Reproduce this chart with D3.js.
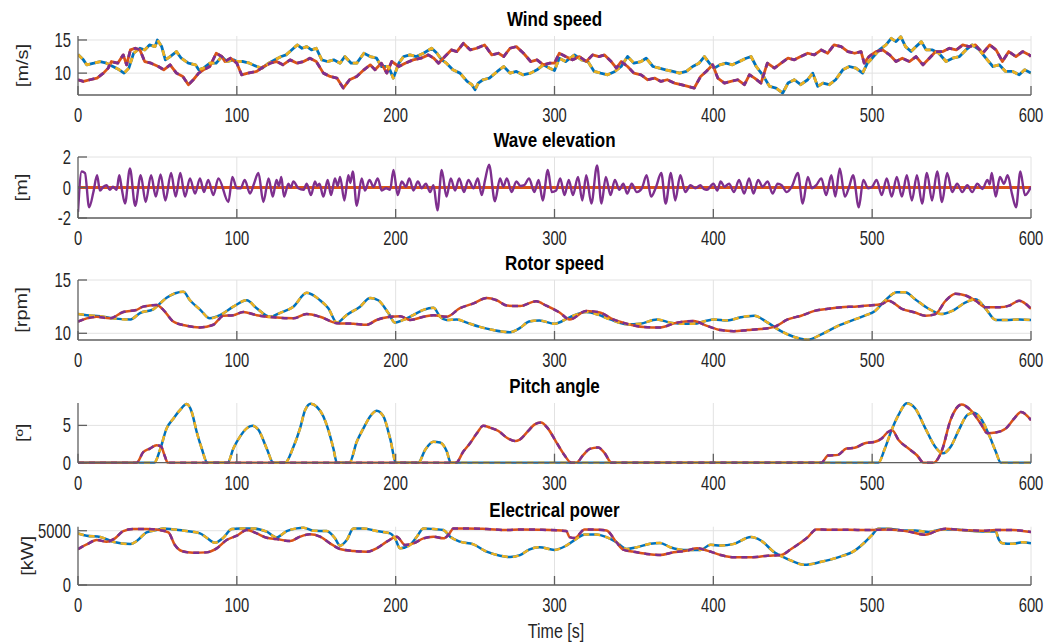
<!DOCTYPE html>
<html>
<head>
<meta charset="utf-8">
<script src="https://cdn.jsdelivr.net/npm/d3@7"></script>
<style>
  body { margin: 0; background: #fff; }
  svg { display: block; }
</style>
</head>
<body>
<div id="app"></div>
<script>
// panel titles, units and ticks
const titles = ['Wind speed', 'Wave elevation', 'Rotor speed', 'Pitch angle', 'Electrical power'];
const units = ['[m/s]', '[m]', '[rpm]', '[º]', '[kW]'];
const timeTicks = [0, 100, 200, 300, 400, 500, 600];
const windTicks = [10, 15];
const waveTicks = [-2, 0, 2];
const rotorTicks = [10, 15];
const pitchTicks = [0, 5];
const powerTicks = [0, 5000];

// [time s, value]
const windA = [[0,12.8],[3.4,12],[5.5,11.25],[10,11.5],[14,11.75],[18,11.5],[22,11],[26,10.5],[29,10],[32,10.75],[35,13],[39,13.75],[42,13.5],[45,14.25],[48.5,14],[50,15],[52.7,14],[55,12],[58,12.5],[62,13.25],[65,12.25],[69.5,11.5],[74,11.25],[76,10.5],[79,10.75],[83,11.5],[87,11.5],[90.5,12.5],[93.6,11.75],[98,12],[100,11.75],[104,11.75],[108,11.5],[112.5,11],[116,10.75],[120,11.5],[124,12],[128,12.5],[131,12.75],[134.5,13.5],[138,14.25],[141,13.75],[144,14],[147,13.5],[150,13.75],[153.5,12],[157,11.75],[161,12],[165,11.5],[168,12.5],[172,11.5],[175.5,11.5],[180,13],[184,12.5],[188,12.25],[191,11],[195.5,11],[198.5,9.25],[202,11.5],[205,12.5],[209,12.75],[213,12.5],[217.5,13],[222.7,13.75],[226,13],[229,12],[232,11.5],[236,10.5],[240.5,10],[245,8.75],[248,8.25],[250,7.5],[252,8.5],[255,9],[259,9.25],[264,10.25],[268,11],[272,10],[276,10.25],[280,9.75],[285,10],[289,10.5],[293,11.25],[297,10.75],[300,10.4],[303,12.25],[307,11.75],[312.6,12.75],[317,12],[321,11.75],[325,10.25],[329,10],[333.5,9.75],[338,10.25],[342,11],[346,12.5],[350,11.5],[354.5,11.75],[357.7,12.25],[362,11],[366,10.75],[370,10.5],[374.5,10.25],[378.7,10],[383,10.25],[387,11],[391,11.5],[394.4,12.5],[397.5,11.5],[400.7,10.75],[404,11.25],[408,11.5],[412,11.25],[416.4,11.75],[420.6,12.25],[423.8,12.5],[427,11],[431,9.75],[435.4,8],[439.5,7.75],[443.7,7],[447,8.5],[451,9],[455,8.25],[459.4,9],[462.6,10],[465.7,8],[469,8.5],[473,8.25],[477,9],[481.5,10.5],[485.6,11],[489.8,10.75],[494,10],[497,11.5],[500,12.25],[504.5,13.5],[508.7,14.25],[512,15.25],[515,14.75],[518,15.5],[521,14],[524.5,13.25],[527.6,14],[531,14.75],[534,13.5],[538,13.5],[542,13],[546.5,11.75],[550.7,12.25],[555,12.5],[559,13.5],[563,14.25],[567.5,13.5],[571.6,12.25],[576,11],[580,11.25],[584,10.25],[588.5,10.25],[592.6,9.75],[596,10.5],[600,10]];
const windB = [[0,9],[3.4,8.75],[7.5,9],[12,9.25],[16,10],[19,10.75],[21,11.75],[25,11.5],[28.5,12.75],[30.6,11.25],[33,13.5],[36,13.75],[39,13.5],[42,11.75],[46,11.5],[50.6,11],[54,10.5],[58,11.25],[62,10],[66,9.5],[69.5,8.25],[72.6,9],[76,10],[79,10.5],[83,11],[87,13],[90.5,12.5],[92.5,11.75],[96,12.25],[100,11.5],[103,9.75],[107,10],[112.5,10.25],[117,11],[121,11.5],[125,11.75],[129,11.25],[133.5,12],[138,11.5],[142,11.75],[146,12.25],[150,11.75],[154.5,10],[158.7,9.5],[163,9.25],[167,7.75],[171,9],[175.5,9.5],[180,10.5],[184,11.25],[187,10.5],[191,11.5],[194.4,10],[197.5,11.75],[202,11],[206,11.5],[211,12],[216,12.25],[220.6,12.75],[224,12.25],[227,11.5],[231,12.5],[235,13.5],[238.5,13.25],[242.6,14.5],[247,13.5],[251,13.75],[256,14.25],[260.5,12.75],[264.7,13],[268,12.5],[272,13.75],[276,14],[280.5,13],[285,11.75],[289,12],[293,11.25],[297,11.5],[300,11.5],[303,13],[307,12.5],[311.5,12],[315.7,12.5],[320,11.75],[324,12.75],[328,12.5],[331.5,12.75],[335.7,11.75],[339,10.75],[342,11.75],[346,11],[350,10],[354.5,9.75],[358.7,9],[363,9.25],[367,8.75],[371,9],[375.5,8.5],[379.7,8.25],[384,8],[388,7.75],[392,9.5],[395.5,10.25],[399.6,11.25],[402.8,9.25],[407,8.5],[411,8.75],[415.4,9],[419.6,8.25],[422.7,9.75],[426,9.25],[430,8.5],[434,11.5],[438.5,10.75],[442.7,11.5],[447,12.25],[451,12],[455,12.5],[459.4,13],[463.6,12.75],[468,13.5],[472,13],[476,14.25],[480.5,14],[484.7,13.25],[489,13],[493,13.25],[495,11.5],[498,12.5],[502.4,13.25],[506.6,13.5],[511,12.75],[515,11.75],[519,12.25],[523.4,11.75],[527.6,12.5],[532,11.25],[536,12.25],[540,13.25],[544.5,13.25],[548.6,13.75],[553,13.5],[557,14.25],[561,14],[565,14.25],[569.6,13],[574,14.25],[578,13.5],[582,11.75],[586,13.25],[590.5,12.5],[594.7,13.25],[599,12.75],[600,12.5]];

const waveStill = [[0,0],[600,0]];
const waveElev = [[0,-1.6],[2.3,1.05],[4.4,0.95],[7,-1.3],[9.7,-0.3],[12,0.8],[13.8,-0.2],[16,0.05],[18,0.15],[20,-0.15],[22,0.05],[24.3,-0.15],[26,0.8],[27.5,-0.05],[29.6,-1.05],[32.7,1.25],[36,-1.2],[39.5,0.8],[42.6,-0.95],[46,0.8],[49,-0.6],[52,0.85],[55,-0.85],[58.6,0.95],[61.5,-0.6],[64.4,0.95],[67.4,-0.6],[70.5,0.6],[73.7,-0.4],[76.8,0.6],[79.3,-0.3],[82,0.5],[85.2,-0.5],[88.4,0.6],[94.7,-0.95],[97.2,0.7],[100,-0.05],[102.4,-0.05],[105,0.5],[108.3,-0.4],[110.8,0.25],[113.6,0.95],[116.7,-0.95],[120,0.6],[122.6,-0.6],[125,0.5],[126.5,0.1],[128,0.7],[129.7,-0.6],[132.5,0.25],[134,0],[135.6,0.4],[138.7,-0.05],[142,-0.15],[144,0.25],[146.7,-0.5],[149.2,0.4],[150.5,0.1],[152,0.25],[154.5,-0.6],[157.2,0.5],[159.3,-0.5],[161.8,0.6],[163.5,0.1],[165,0.7],[167.7,-0.85],[170.2,0.8],[171.5,0.3],[173,1.05],[175.5,-1.2],[178.6,0.6],[180.7,-0.2],[183.5,0.5],[186,0.05],[188.7,0.6],[191.2,-0.2],[194,-0.05],[196.5,-0.15],[198.6,1.15],[201.3,-0.5],[203.8,0.4],[206.5,0.05],[208.6,0.6],[211.2,-0.2],[214,0.4],[216.4,-0.05],[219,0.25],[221.7,-0.3],[223.8,0.15],[226.3,-1.5],[229,1.15],[232,-0.6],[234.7,0.6],[237.4,-0.2],[240,0.6],[243,-0.3],[245.8,0.5],[249,-0.05],[251.7,0.6],[254.2,-0.5],[256.3,0.5],[258.8,1.5],[262.5,-0.9],[265.7,0.6],[267.8,0.05],[270,0.6],[273,-0.3],[276,0.4],[278.5,0.1],[281,0.15],[284,0.6],[287.3,-0.3],[290,0.5],[292.6,-0.85],[295.8,1.15],[298.3,-0.3],[301,-0.2],[303.6,0.6],[306.3,-0.5],[309,0.5],[311.6,-0.5],[314.8,0.7],[317.5,-0.85],[320,0.8],[323.2,-1.05],[326.8,1.45],[329.6,-1.05],[332.3,0.7],[335.3,-0.5],[338,0.5],[340.8,-0.15],[343.3,0.25],[345.8,-0.4],[348.6,0.25],[351.8,-0.3],[355,-0.05],[358,0.8],[360.8,-0.6],[364,0.05],[367.2,0.95],[370,-1.05],[373.3,0.95],[376,-0.85],[379.2,0.8],[382.4,-0.3],[385.6,0.15],[388.7,-0.05],[391.9,0.15],[394,-0.1],[396,-0.15],[400,0.25],[402.5,-0.2],[404.6,0.4],[407,0.05],[409.9,0.25],[413,-0.3],[416.2,0.5],[419.4,-0.4],[422.5,0.6],[425.3,-0.4],[428.2,0.5],[431,0.05],[434.2,0.4],[437.3,-0.4],[440.5,0.25],[443,0.15],[446.2,-0.3],[449.4,0.05],[453.2,0.95],[456.3,-1.05],[459.5,0.7],[462,-0.05],[464.8,0.15],[468,0.6],[471,-0.5],[474.3,0.8],[476.8,-0.6],[479.6,1.25],[482.8,-0.6],[485.5,0.05],[488,0.8],[491.6,-1.3],[494.4,0.5],[497.5,-0.05],[500,0.05],[502.8,0.5],[506,-0.5],[509.2,0.6],[512.3,-0.6],[515.5,0.7],[518.7,-0.6],[521.8,0.8],[525,-0.85],[528.2,0.8],[531.4,-1.05],[534.5,0.95],[537.7,-0.85],[540.9,1.05],[544,-0.95],[547.2,0.95],[550.4,-0.3],[553.5,0.25],[556.7,-0.3],[559.9,0.15],[563,-0.3],[566.2,0.25],[569.4,-0.1],[572.6,0.5],[574,0.2],[575.3,0.95],[577.8,-0.6],[580.4,0.7],[583,0.25],[585.3,0.8],[588,-0.4],[590.6,-1.3],[593.3,1.05],[596.2,-0.5],[600,0.05]];

const rotorA = [[0,11.8],[5.5,11.7],[14,11.6],[22,11.4],[33,11.3],[39,11.9],[47.4,12.25],[51.6,12.8],[56,13.35],[66.3,13.9],[70.5,13.1],[77,12.2],[83,11.4],[89.4,11.7],[97.8,12.5],[106.2,13.1],[112.5,12.35],[121,11.55],[127,11.9],[135.6,12.5],[144,13.8],[152.4,13.1],[157.6,12.35],[163,11],[169,11.7],[177.6,12.5],[183.9,13.3],[189,13.1],[195.4,11.9],[199.6,11],[204.9,11.25],[211,11.7],[217.5,12.2],[223.8,12.4],[228,11.55],[232,11.25],[238.5,11.3],[244.8,11],[253,10.6],[261.5,10.3],[272,10.1],[278.3,10.5],[284,11.1],[290.5,11.2],[300,10.9],[309.5,11.5],[320,12],[327.5,11.75],[335,11.3],[345.4,10.85],[353.9,10.9],[364.4,11.3],[372.9,11],[379.2,10.9],[387.7,10.9],[395,11.15],[400.4,11.3],[408.8,11.2],[417.3,11.5],[425.7,11.65],[434.2,11],[442.6,10.2],[451,9.65],[459.5,9.4],[468,9.9],[478.5,10.7],[489,11.3],[495.4,11.65],[501.8,12.1],[508,13.05],[515.5,13.85],[520.8,13.85],[527,13.2],[535.6,12.3],[544,11.8],[550.4,12.1],[558.8,12.9],[565.2,13.2],[571.5,12.3],[577.8,11.25],[584.2,11.25],[592.6,11.3],[600,11.25]];
const rotorB = [[0,11.1],[5.5,11.4],[11.8,11.55],[20,11.4],[28.5,12],[37,12.2],[41,12.5],[49.5,12.65],[53.7,12.2],[60,11.1],[68.4,10.7],[76.8,10.55],[85.2,10.8],[91.5,11.65],[97.8,11.7],[104,12],[112.5,11.7],[123,11.5],[135.6,11.4],[144,11.8],[152.4,11.55],[163,10.95],[173.4,10.9],[181.8,10.8],[188,11.25],[196.5,11.55],[202.8,11.6],[209,11.25],[217.5,11.55],[223.8,11.7],[232,11.55],[240.5,12.35],[249,12.8],[257.3,13.3],[263.6,13.1],[270,12.6],[278.3,12.55],[288.4,13],[294.7,12.6],[303.2,11.95],[309.5,11.3],[320,12.1],[328.5,11.95],[337,11.3],[345.4,10.9],[356,10.6],[366.5,10.55],[377,11],[387.7,11.15],[396,10.7],[404.6,10.3],[413,10.2],[421.5,10.3],[430,10.4],[438.4,10.6],[446.8,11.3],[455.3,11.65],[463.7,12.1],[472.2,12.3],[480.6,12.45],[489,12.5],[497.5,12.6],[506,12.75],[510.2,13.05],[518.7,12.3],[527,11.95],[533.5,11.65],[539.8,11.8],[546.2,13.05],[552.5,13.7],[558.8,13.55],[565.2,13.05],[571.5,12.45],[580,12.45],[586.3,12.6],[592.6,13.05],[600,12.3]];

const pitchA = [[0,0],[48,0],[51.6,1.7],[55.8,4.6],[60,5.9],[64.2,7.05],[68.4,7.85],[71.6,6.8],[74.7,4.15],[77.9,1.9],[81.4,0],[94.2,0],[97.8,1.9],[102,3.5],[106.2,4.6],[109.8,4.95],[113.6,4.4],[118.8,1.9],[123,0],[130.4,0],[135.6,2.1],[139.8,4.6],[143,7.05],[146.5,7.9],[150.3,7.5],[154.5,6.2],[157.6,4.4],[160.8,1.9],[163,0],[170.9,0],[175.5,2.8],[179.7,4.6],[183.9,6.2],[188,6.95],[192.3,6.2],[196.5,3.25],[200.3,0],[214.3,0],[218.5,1.7],[223.8,2.8],[228,2.7],[232.2,1.5],[234.7,0],[503.9,0],[508,1.9],[512.3,4.4],[516.6,6.4],[521.8,7.95],[527,7.3],[533.5,4.6],[539.8,2.1],[544.5,1.25],[549.3,2.1],[554.6,4.4],[559.9,6.4],[564.1,6.7],[568.3,5.95],[573.6,3.7],[577.8,1.5],[581,0],[600,0]];
const pitchB = [[0,0],[36.9,0],[41,1.4],[45.3,1.9],[49.5,2.35],[52.3,2.15],[54.8,0.8],[56.5,0],[238,0],[242.6,1.5],[246.8,2.6],[251,3.9],[255.2,4.95],[259.4,4.7],[264.7,4.25],[270,3.35],[275.3,2.9],[277.8,3.05],[283,4.15],[287.3,5.1],[291.5,5.4],[295.8,4.6],[301,2.8],[306.3,1],[310.6,0],[313.7,0],[318,1],[322.2,1.85],[327.5,2.05],[331.7,1.25],[335.9,0],[468,0],[472.2,0.95],[478.5,1.05],[483.8,1.9],[489,2],[495.4,2.6],[501.8,2.8],[506,3.25],[510.2,4.15],[512.7,4.3],[516.6,3.05],[522.9,1.9],[528.2,1],[532.4,0],[538.7,0],[544,1.7],[549.3,5.7],[556.3,7.8],[562,7.05],[568.3,5.25],[572.6,3.95],[577.8,4.05],[584.2,4.6],[589.5,5.95],[593.7,6.8],[600,5.7]];

const powerA = [[0,4755],[5.5,4540],[14,4420],[22,3990],[33,3770],[37,4050],[43.2,4850],[49.5,5060],[53.7,5215],[60,5120],[68.4,4970],[76.8,4755],[81,4355],[86.3,3895],[91.5,4355],[96.8,5155],[102,5215],[110.4,5215],[118.8,4910],[125,4385],[131.4,4970],[137.7,5215],[141.9,5275],[148.2,5000],[156.6,4970],[161.8,4295],[165,3620],[169.2,4140],[173.4,5215],[179.7,5215],[188,4970],[196.5,4755],[199.6,4295],[202.8,3375],[209,3680],[213.3,4450],[217.5,5215],[223.8,5155],[230,5060],[234.3,4450],[240.5,3990],[249,3740],[257.3,3065],[265.7,2700],[272,2575],[278.3,2750],[284,3260],[290.5,3480],[300,3230],[307.4,3630],[313.7,4250],[319,4660],[326.4,4660],[332.7,4410],[339,3940],[345.4,3320],[351.8,3480],[360.2,3790],[366.5,3880],[372.9,3480],[381.3,3230],[391.9,3230],[398.2,3700],[404.6,3630],[413,3790],[423.6,4410],[429.9,4100],[438.4,3010],[446.8,2390],[457.4,1860],[468,2140],[478.5,2550],[489,3170],[495.4,3940],[499.7,4565],[503.9,5185],[510.2,5185],[518.7,5030],[527,5030],[535.6,4875],[544,5120],[552.5,5120],[560.9,5000],[569.4,4935],[577.8,4935],[579.5,4255],[582,3850],[588.4,3790],[594.7,3940],[600,3850]];
const powerB = [[0,3310],[5.5,3740],[11.8,4140],[18,3990],[23.3,4295],[28.5,4970],[34.8,5155],[43.2,5155],[51.6,5060],[56.9,4850],[61,3680],[65.3,3130],[72.6,2975],[81,3005],[87.3,3375],[93.6,4140],[100,4540],[106.2,5060],[112.5,4755],[118.8,4355],[125,4235],[133.5,4050],[139.8,4450],[146,4665],[152.4,4450],[158.7,3835],[165,3310],[173.4,3130],[181.8,3065],[188,3375],[194.4,3990],[200.7,4450],[206,3680],[211.2,3835],[217.5,4295],[223.8,4450],[230,4295],[233.2,4600],[236.4,5215],[244.8,5215],[257.3,5155],[270,5060],[278.3,5120],[290.5,5090],[307.4,4970],[309.5,4410],[312.7,4320],[319,5120],[326.4,5090],[332.7,5030],[339,3940],[343.3,3260],[349.6,3075],[358.1,2860],[366.5,2765],[375,3010],[383.5,3170],[389.8,3385],[396.1,3170],[404.6,2765],[413,2550],[423.6,2550],[434.2,2700],[442.6,2765],[449,3320],[455.3,3940],[459.5,4410],[464.8,5120],[472.2,5090],[484.9,5090],[497.5,5060],[510.2,5120],[522.9,4935],[533.5,4625],[539.8,4935],[546.2,5185],[556.7,5060],[569.4,5000],[577.8,5060],[588.4,5060],[600,4875]];

const BLUE = '#0072BD', ORANGE = '#D95319', YELLOW = '#EDB120', PURPLE = '#7E2F8E';
const FONT = '"Liberation Sans", Arial, Helvetica, sans-serif';

const svg = d3.select('#app').append('svg').attr('width', 1046).attr('height', 644);
const x = d3.scaleLinear().domain([0, 600]).range([78, 1031]);

// blue/orange solid first, then yellow/purple dashed on top
const pair = (a, b, curve, w) => [
  {data: a, color: BLUE, dash: null, curve, w},
  {data: b, color: ORANGE, dash: null, curve, w},
  {data: a, color: YELLOW, dash: '6 5', curve, w},
  {data: b, color: PURPLE, dash: '6 5', curve, w}
];

const panels = [
  {top: 36, bottom: 95, domain: [6.7, 15.6], ticks: windTicks, labelX: 22, series: pair(windA, windB, d3.curveLinear, 2.8)},
  {top: 157, bottom: 218, domain: [-2, 2], ticks: waveTicks, labelX: 21, series: [
    {data: waveStill, color: ORANGE, dash: null, curve: d3.curveLinear, w: 2.8},
    {data: waveElev, color: PURPLE, dash: null, curve: d3.curveMonotoneX, w: 2.4}
  ]},
  {top: 280, bottom: 340, domain: [9.37, 15], ticks: rotorTicks, labelX: 21, series: pair(rotorA, rotorB, d3.curveMonotoneX, 2.5)},
  {top: 403, bottom: 462.7, domain: [0, 8], ticks: pitchTicks, labelX: 22, series: pair(pitchA, pitchB, d3.curveMonotoneX, 2.5)},
  {top: 526.7, bottom: 585, domain: [0, 5370], ticks: powerTicks, labelX: 27, series: pair(powerA, powerB, d3.curveMonotoneX, 2.5)}
];

panels.forEach((p, i) => {
  const y = d3.scaleLinear().domain(p.domain).range([p.bottom, p.top]);
  const g = svg.append('g');

  // grid
  g.selectAll('.vg').data(timeTicks.slice(1)).enter().append('line')
    .attr('x1', d => x(d)).attr('x2', d => x(d))
    .attr('y1', p.top).attr('y2', p.bottom)
    .attr('stroke', '#e2e2e2').attr('stroke-width', 1);
  g.selectAll('.hg').data(p.ticks).enter().append('line')
    .attr('x1', x(0)).attr('x2', x(600))
    .attr('y1', d => y(d)).attr('y2', d => y(d))
    .attr('stroke', '#e2e2e2').attr('stroke-width', 1);

  // lines
  const clipId = 'clip' + i;
  svg.append('clipPath').attr('id', clipId).append('rect')
    .attr('x', x(0)).attr('y', p.top - 2).attr('width', x(600) - x(0)).attr('height', p.bottom - p.top + 3);
  const lg = g.append('g').attr('clip-path', `url(#${clipId})`);
  p.series.forEach(s => {
    const line = d3.line().x(d => x(d[0])).y(d => y(d[1])).curve(s.curve);
    lg.append('path')
      .attr('d', line(s.data))
      .attr('fill', 'none')
      .attr('stroke', s.color)
      .attr('stroke-width', s.w)
      .attr('stroke-linejoin', 'round')
      .attr('stroke-dasharray', s.dash);
  });

  // axes lines and inward ticks
  g.append('line').attr('x1', x(0)).attr('x2', x(600)).attr('y1', p.bottom).attr('y2', p.bottom)
    .attr('stroke', '#606060').attr('stroke-width', 1.3);
  g.append('line').attr('x1', x(0)).attr('x2', x(0)).attr('y1', p.top).attr('y2', p.bottom)
    .attr('stroke', '#606060').attr('stroke-width', 1.3);
  g.selectAll('.xt').data(timeTicks).enter().append('line')
    .attr('x1', d => x(d)).attr('x2', d => x(d))
    .attr('y1', p.bottom).attr('y2', p.bottom - 9)
    .attr('stroke', '#606060').attr('stroke-width', 1.3);
  g.selectAll('.yt').data(p.ticks).enter().append('line')
    .attr('x1', x(0)).attr('x2', x(0) + 9)
    .attr('y1', d => y(d)).attr('y2', d => y(d))
    .attr('stroke', '#606060').attr('stroke-width', 1.3);

  // tick labels
  g.selectAll('.xl').data(timeTicks).enter().append('text')
    .attr('transform', d => `translate(${x(d)},${p.bottom + 27}) scale(0.74,1)`)
    .attr('text-anchor', 'middle')
    .attr('font-family', FONT).attr('font-size', '20px').attr('fill', '#262626')
    .text(d => d);
  g.selectAll('.yl').data(p.ticks).enter().append('text')
    .attr('transform', d => `translate(71,${y(d) + 7}) scale(0.74,1)`)
    .attr('text-anchor', 'end')
    .attr('font-family', FONT).attr('font-size', '20px').attr('fill', '#262626')
    .text(d => d);

  // title and unit
  g.append('text')
    .attr('transform', `translate(${(x(0) + x(600)) / 2},${p.top - 10}) scale(0.85,1)`)
    .attr('text-anchor', 'middle')
    .attr('font-family', FONT).attr('font-size', '20px').attr('font-weight', 700).attr('fill', '#000')
    .text(titles[i]);
  g.append('text')
    .attr('transform', `translate(${p.labelX},${(p.top + p.bottom) / 2}) scale(0.8,1) rotate(-90)`)
    .attr('text-anchor', 'middle').attr('dy', '0.35em')
    .attr('font-family', FONT).attr('font-size', '20px').attr('fill', '#262626')
    .text(units[i]);
});

svg.append('text')
  .attr('transform', 'translate(556,638) scale(0.8,1)')
  .attr('text-anchor', 'middle')
  .attr('font-family', FONT).attr('font-size', '20px').attr('fill', '#262626')
  .text('Time [s]');
</script>
</body>
</html>
